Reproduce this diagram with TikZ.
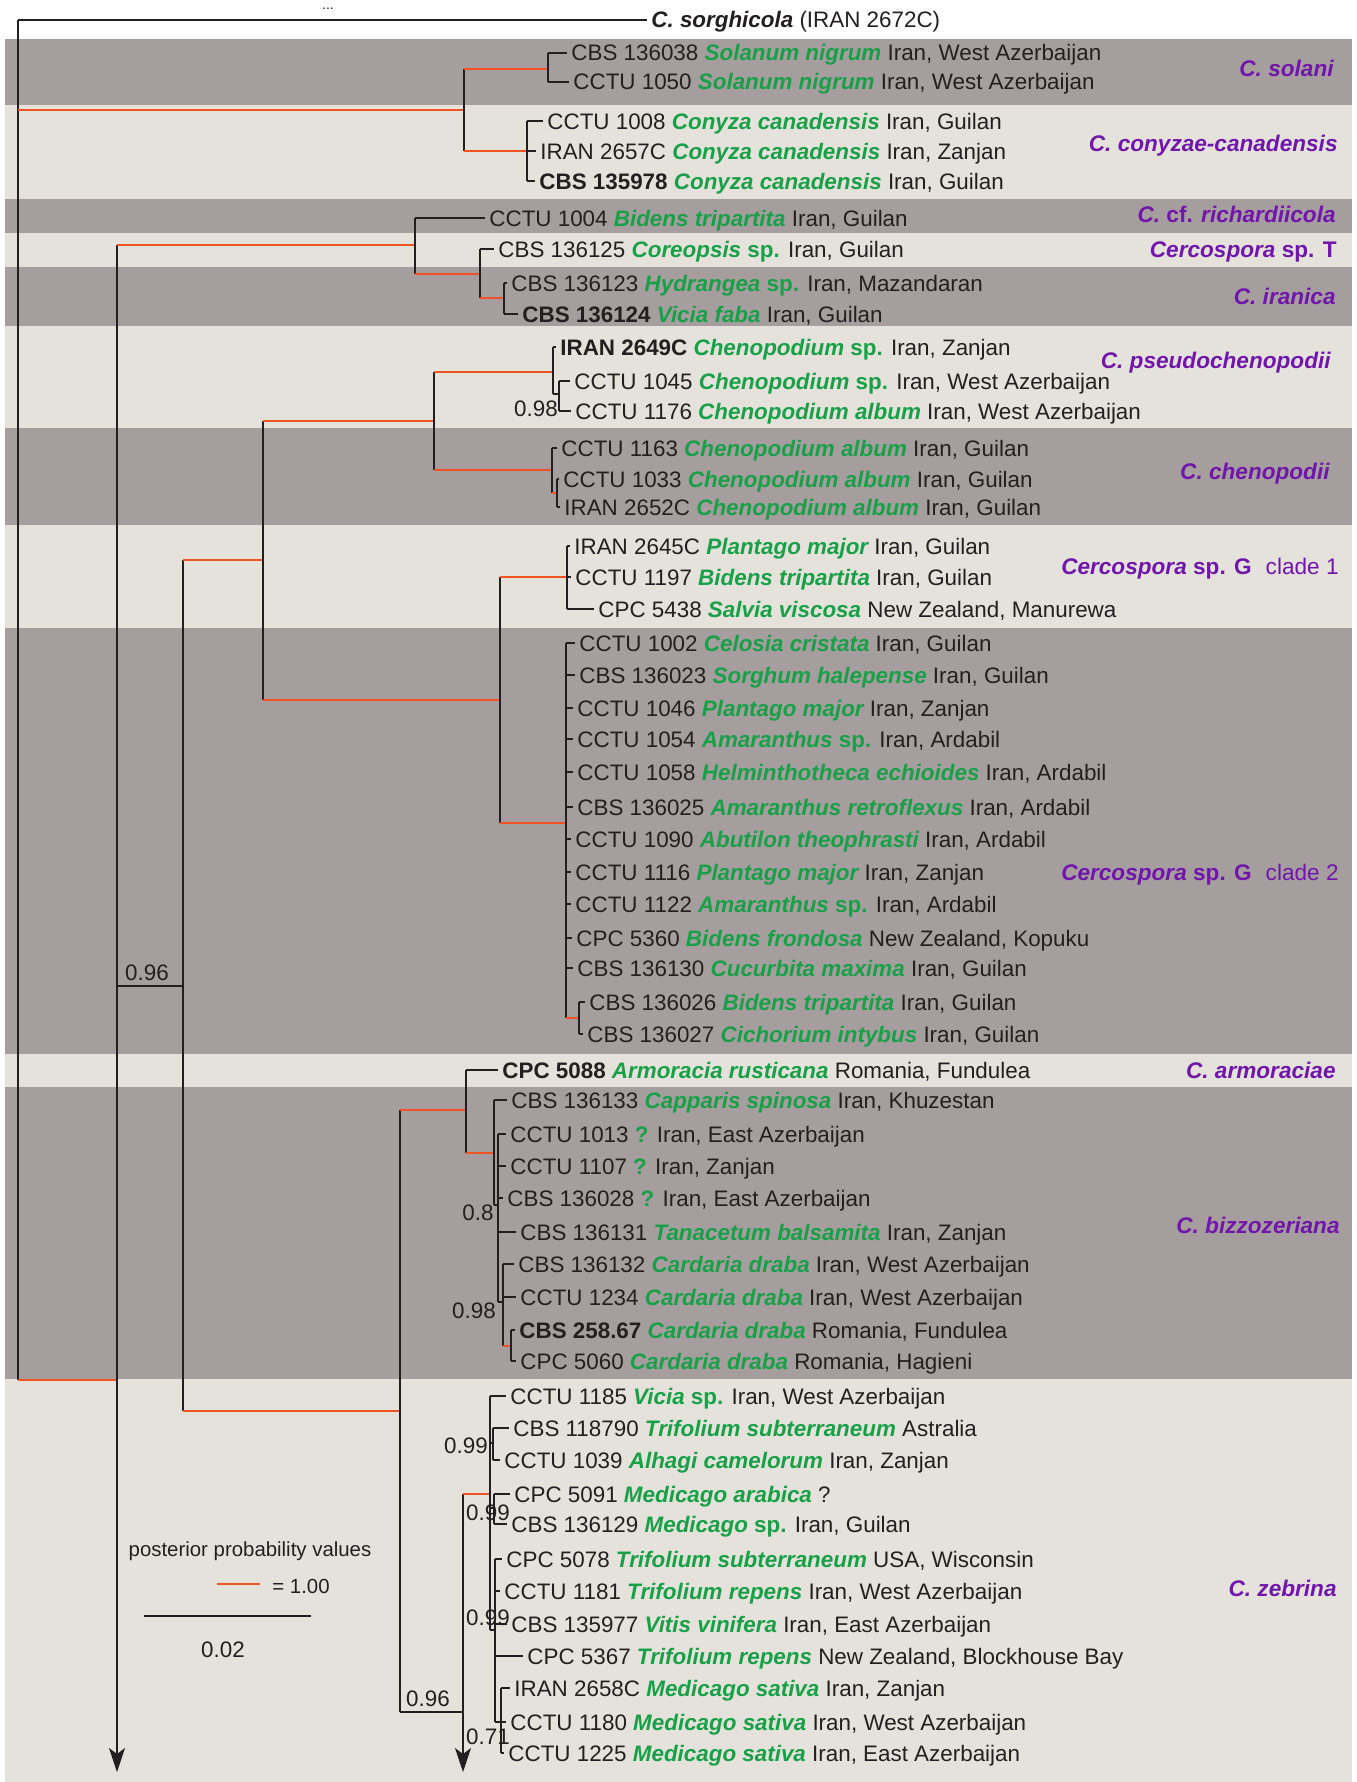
\documentclass[tikz,border=0pt]{standalone}
\usepackage{fontspec}
\setmainfont{Liberation Sans}
\usetikzlibrary{arrows.meta}
\definecolor{bandA}{RGB}{166,157,158}
\definecolor{bandB}{RGB}{229,226,219}
\definecolor{ppc}{RGB}{240,84,35}
\definecolor{host}{RGB}{24,160,72}
\definecolor{clade}{RGB}{112,22,170}
\definecolor{ink}{RGB}{35,31,32}
\newcommand{\hst}[1]{\textcolor{host}{\bfseries\itshape #1}}
\newcommand{\hsp}{\textcolor{host}{\bfseries sp.}}
\newcommand{\hq}{\textcolor{host}{\bfseries ?}}
\newcommand{\spc}[1]{\textcolor{clade}{\bfseries\itshape #1}}
\tikzset{
  br/.style={line width=1pt, ink},
  pp/.style={line width=1.4pt, ppc},
  strain/.style={anchor=west, inner xsep=2pt, inner ysep=0pt, text height=8pt, text depth=0pt, text=ink, font=\fontsize{11.2}{13}\selectfont},
  taxon/.style={anchor=east, inner xsep=2pt, inner ysep=0pt, text height=8pt, text depth=0pt, text=clade, font=\fontsize{11.3}{13}\selectfont},
  pv/.style={inner sep=0pt, text height=8pt, text depth=0pt, text=ink, font=\fontsize{11.2}{13}\selectfont},
  cut/.style={br, -{Stealth[length=12pt, width=8pt, inset=3pt]}}
}
\begin{document}
\begin{tikzpicture}[x=0.5pt, y=-0.5pt]
	\useasboundingbox (0,0) rectangle (1356,1782);

	\fill[bandA] (5,39) rectangle (1352,105);
	\fill[bandB] (5,105) rectangle (1352,199);
	\fill[bandA] (5,199) rectangle (1352,233);
	\fill[bandB] (5,233) rectangle (1352,267);
	\fill[bandA] (5,267) rectangle (1352,326);
	\fill[bandB] (5,326) rectangle (1352,428);
	\fill[bandA] (5,428) rectangle (1352,525);
	\fill[bandB] (5,525) rectangle (1352,628);
	\fill[bandA] (5,628) rectangle (1352,1054);
	\fill[bandB] (5,1054) rectangle (1352,1087);
	\fill[bandA] (5,1087) rectangle (1352,1379);
	\fill[bandB] (5,1379) rectangle (1352,1782);

	\node[text=ink, inner sep=0pt, anchor=base, font=\fontsize{7}{8}\selectfont] (dots) at (328,10) {...};

	% strains
	\node[strain] (out) at (647,20) {\textbf{\textit{C. sorghicola}} (IRAN 2672C)};
	\node[strain] (s1) at (567,53) {CBS 136038 \hst{Solanum nigrum} Iran, West Azerbaijan};
	\node[strain] (s2) at (569,82) {CCTU 1050 \hst{Solanum nigrum} Iran, West Azerbaijan};
	\node[strain] (c1) at (543,121) {CCTU 1008 \hst{Conyza canadensis} Iran, Guilan};
	\node[strain] (c2) at (536,151) {IRAN 2657C \hst{Conyza canadensis} Iran, Zanjan};
	\node[strain] (c3) at (535,181) {\textbf{CBS 135978} \hst{Conyza canadensis} Iran, Guilan};
	\node[strain] (r1) at (485,218) {CCTU 1004 \hst{Bidens tripartita} Iran, Guilan};
	\node[strain] (r2) at (494,249) {CBS 136125 \hst{Coreopsis} \hsp{} Iran, Guilan};
	\node[strain] (r3) at (507,283) {CBS 136123 \hst{Hydrangea} \hsp{} Iran, Mazandaran};
	\node[strain] (r4) at (518,314) {\textbf{CBS 136124} \hst{Vicia faba} Iran, Guilan};
	\node[strain] (p1) at (556,347) {\textbf{IRAN 2649C} \hst{Chenopodium} \hsp{} Iran, Zanjan};
	\node[strain] (p2) at (570,381) {CCTU 1045 \hst{Chenopodium} \hsp{} Iran, West Azerbaijan};
	\node[strain] (p3) at (571,411) {CCTU 1176 \hst{Chenopodium album} Iran, West Azerbaijan};
	\node[strain] (h1) at (557,448) {CCTU 1163 \hst{Chenopodium album} Iran, Guilan};
	\node[strain] (h2) at (559,479) {CCTU 1033 \hst{Chenopodium album} Iran, Guilan};
	\node[strain] (h3) at (560,507) {IRAN 2652C \hst{Chenopodium album} Iran, Guilan};
	\node[strain] (g1) at (570,546) {IRAN 2645C \hst{Plantago major} Iran, Guilan};
	\node[strain] (g2) at (571,577) {CCTU 1197 \hst{Bidens tripartita} Iran, Guilan};
	\node[strain] (g3) at (594,609) {CPC 5438 \hst{Salvia viscosa} New Zealand, Manurewa};
	\node[strain] (k1) at (575,643) {CCTU 1002 \hst{Celosia cristata} Iran, Guilan};
	\node[strain] (k2) at (575,675) {CBS 136023 \hst{Sorghum halepense} Iran, Guilan};
	\node[strain] (k3) at (573,708) {CCTU 1046 \hst{Plantago major} Iran, Zanjan};
	\node[strain] (k4) at (573,739) {CCTU 1054 \hst{Amaranthus} \hsp{} Iran, Ardabil};
	\node[strain] (k5) at (573,772) {CCTU 1058 \hst{Helminthotheca echioides} Iran, Ardabil};
	\node[strain] (k6) at (573,807) {CBS 136025 \hst{Amaranthus retroflexus} Iran, Ardabil};
	\node[strain] (k7) at (571,839) {CCTU 1090 \hst{Abutilon theophrasti} Iran, Ardabil};
	\node[strain] (k8) at (571,872) {CCTU 1116 \hst{Plantago major} Iran, Zanjan};
	\node[strain] (k9) at (571,904) {CCTU 1122 \hst{Amaranthus} \hsp{} Iran, Ardabil};
	\node[strain] (k10) at (572,938) {CPC 5360 \hst{Bidens frondosa} New Zealand, Kopuku};
	\node[strain] (k11) at (573,968) {CBS 136130 \hst{Cucurbita maxima} Iran, Guilan};
	\node[strain] (k12) at (585,1002) {CBS 136026 \hst{Bidens tripartita} Iran, Guilan};
	\node[strain] (k13) at (583,1034) {CBS 136027 \hst{Cichorium intybus} Iran, Guilan};
	\node[strain] (a1) at (498,1070) {\textbf{CPC 5088} \hst{Armoracia rusticana} Romania, Fundulea};
	\node[strain] (b1) at (507,1100) {CBS 136133 \hst{Capparis spinosa} Iran, Khuzestan};
	\node[strain] (b2) at (506,1134) {CCTU 1013 \hq{} Iran, East Azerbaijan};
	\node[strain] (b3) at (506,1166) {CCTU 1107 \hq{} Iran, Zanjan};
	\node[strain] (b4) at (503,1198) {CBS 136028 \hq{} Iran, East Azerbaijan};
	\node[strain] (b5) at (516,1232) {CBS 136131 \hst{Tanacetum balsamita} Iran, Zanjan};
	\node[strain] (b6) at (514,1264) {CBS 136132 \hst{Cardaria draba} Iran, West Azerbaijan};
	\node[strain] (b7) at (516,1297) {CCTU 1234 \hst{Cardaria draba} Iran, West Azerbaijan};
	\node[strain] (b8) at (515,1330) {\textbf{CBS 258.67} \hst{Cardaria draba} Romania, Fundulea};
	\node[strain] (b9) at (516,1361) {CPC 5060 \hst{Cardaria draba} Romania, Hagieni};
	\node[strain] (z1) at (506,1396) {CCTU 1185 \hst{Vicia} \hsp{} Iran, West Azerbaijan};
	\node[strain] (z2) at (509,1428) {CBS 118790 \hst{Trifolium subterraneum} Astralia};
	\node[strain] (z3) at (500,1460) {CCTU 1039 \hst{Alhagi camelorum} Iran, Zanjan};
	\node[strain] (z4) at (510,1494) {CPC 5091 \hst{Medicago arabica} ?};
	\node[strain] (z5) at (507,1524) {CBS 136129 \hst{Medicago} \hsp{} Iran, Guilan};
	\node[strain] (z6) at (502,1559) {CPC 5078 \hst{Trifolium subterraneum} USA, Wisconsin};
	\node[strain] (z7) at (500,1591) {CCTU 1181 \hst{Trifolium repens} Iran, West Azerbaijan};
	\node[strain] (z8) at (507,1624) {CBS 135977 \hst{Vitis vinifera} Iran, East Azerbaijan};
	\node[strain] (z9) at (523,1656) {CPC 5367 \hst{Trifolium repens} New Zealand, Blockhouse Bay};
	\node[strain] (z10) at (510,1688) {IRAN 2658C \hst{Medicago sativa} Iran, Zanjan};
	\node[strain] (z11) at (506,1722) {CCTU 1180 \hst{Medicago sativa} Iran, West Azerbaijan};
	\node[strain] (z12) at (504,1753) {CCTU 1225 \hst{Medicago sativa} Iran, East Azerbaijan};

	% species
	\node[taxon] (sol) at (1338,68) {\spc{C. solani}};
	\node[taxon] (con) at (1342,143) {\spc{C. conyzae-canadensis}};
	\node[taxon] (ric) at (1340,214) {\spc{C.} \textbf{cf.} \spc{richardiicola}};
	\node[taxon] (spT) at (1341,249) {\spc{Cercospora} \textbf{sp. T}};
	\node[taxon] (ira) at (1340,296) {\spc{C. iranica}};
	\node[taxon] (pse) at (1335,360) {\spc{C. pseudochenopodii}};
	\node[taxon] (che) at (1334,471) {\spc{C. chenopodii}};
	\node[taxon] (spG1) at (1343,566) {\spc{Cercospora} \textbf{sp. G}\hspace{7pt}clade 1};
	\node[taxon] (spG2) at (1343,872) {\spc{Cercospora} \textbf{sp. G}\hspace{7pt}clade 2};
	\node[taxon] (arm) at (1340,1070) {\spc{C. armoraciae}};
	\node[taxon] (biz) at (1344,1225) {\spc{C. bizzozeriana}};
	\node[taxon] (zeb) at (1341,1588) {\spc{C. zebrina}};

	% internal nodes
	\coordinate (root) at (18,20);
	\coordinate (nA) at (464,110);
	\coordinate (nSol) at (548,69);
	\coordinate (nCon) at (527,151);
	\coordinate (nX) at (117,1380);
	\coordinate (endL) at (117,1772);
	\coordinate (nB) at (415,245);
	\coordinate (nTI) at (480,274);
	\coordinate (nIr) at (504,298);
	\coordinate (nC) at (183,986);
	\coordinate (nD) at (263,560);
	\coordinate (nE) at (434,421);
	\coordinate (nPs) at (553,372);
	\coordinate (nPs2) at (559,394);
	\coordinate (nCh) at (552,470);
	\coordinate (nCh2) at (557,493);
	\coordinate (nF) at (500,700);
	\coordinate (nG1) at (567,577);
	\coordinate (nG2) at (566,823);
	\coordinate (nG2b) at (579,1018);
	\coordinate (nG) at (400,1411);
	\coordinate (nH) at (466,1110);
	\coordinate (nI) at (494,1153);
	\coordinate (nJ) at (498,1205);
	\coordinate (nK) at (503,1302);
	\coordinate (nL) at (511,1346);
	\coordinate (nM) at (463,1712);
	\coordinate (endR) at (463,1772);
	\coordinate (nN) at (490,1494);
	\coordinate (nS1) at (493,1443);
	\coordinate (nS2) at (494,1508);
	\coordinate (nP) at (494.5,1630);
	\coordinate (nQ) at (501,1722);

	% branches
	\draw[br] (root) -- (out.west);
	\draw[br] (root) -- (root |- nX);
	\draw[pp] (root |- nA) -- (nA);
	\draw[pp] (root |- nX) -- (nX);

	\draw[br] (nA |- nSol) -- (nA |- nCon);
	\draw[pp] (nA |- nSol) -- (nSol);
	\draw[pp] (nA |- nCon) -- (nCon);
	\draw[br] (nSol |- s1.west) -- (nSol |- s2.west);
	\draw[br] (nCon |- c1.west) -- (nCon |- c3.west);
	\foreach \t in {s1,s2} \draw[br] (nSol |- \t.west) -- (\t.west);
	\foreach \t in {c1,c2,c3} \draw[br] (nCon |- \t.west) -- (\t.west);

	\draw[cut] (nX |- nB) -- (endL);
	\draw[pp] (nX |- nB) -- (nB);
	\draw[br] (nX |- nC) -- (nC);
	\draw[br] (nB |- r1.west) -- (nB |- nTI);
	\draw[br] (nB |- r1.west) -- (r1.west);
	\draw[pp] (nB |- nTI) -- (nTI);
	\draw[br] (nTI |- r2.west) -- (nTI |- nIr);
	\draw[br] (nTI |- r2.west) -- (r2.west);
	\draw[pp] (nTI |- nIr) -- (nIr);
	\draw[br] (nIr |- r3.west) -- (nIr |- r4.west);
	\foreach \t in {r3,r4} \draw[br] (nIr |- \t.west) -- (\t.west);

	\draw[br] (nC |- nD) -- (nC |- nG);
	\draw[pp] (nC |- nD) -- (nD);
	\draw[pp] (nC |- nG) -- (nG);
	\draw[br] (nD |- nE) -- (nD |- nF);
	\draw[pp] (nD |- nE) -- (nE);
	\draw[pp] (nD |- nF) -- (nF);
	\draw[br] (nE |- nPs) -- (nE |- nCh);
	\draw[pp] (nE |- nPs) -- (nPs);
	\draw[pp] (nE |- nCh) -- (nCh);
	\draw[br] (nPs |- p1.west) -- (nPs |- nPs2);
	\draw[br] (nPs |- p1.west) -- (p1.west);
	\draw[br] (nPs |- nPs2) -- (nPs2);
	\draw[br] (nPs2 |- p2.west) -- (nPs2 |- p3.west);
	\foreach \t in {p2,p3} \draw[br] (nPs2 |- \t.west) -- (\t.west);
	\draw[br] (nCh |- h1.west) -- (nCh |- nCh2);
	\draw[br] (nCh |- h1.west) -- (h1.west);
	\draw[pp] (nCh |- nCh2) -- (nCh2);
	\draw[br] (nCh2 |- h2.west) -- (nCh2 |- h3.west);
	\foreach \t in {h2,h3} \draw[br] (nCh2 |- \t.west) -- (\t.west);

	\draw[br] (nF |- nG1) -- (nF |- nG2);
	\draw[pp] (nF |- nG1) -- (nG1);
	\draw[pp] (nF |- nG2) -- (nG2);
	\draw[br] (nG1 |- g1.west) -- (nG1 |- g3.west);
	\foreach \t in {g1,g2,g3} \draw[br] (nG1 |- \t.west) -- (\t.west);
	\draw[br] (nG2 |- k1.west) -- (nG2 |- nG2b);
	\foreach \i in {1,...,11} \draw[br] (nG2 |- k\i.west) -- (k\i.west);
	\draw[pp] (nG2 |- nG2b) -- (nG2b);
	\draw[br] (nG2b |- k12.west) -- (nG2b |- k13.west);
	\foreach \t in {k12,k13} \draw[br] (nG2b |- \t.west) -- (\t.west);

	\draw[br] (nG |- nH) -- (nG |- nM);
	\draw[pp] (nG |- nH) -- (nH);
	\draw[br] (nG |- nM) -- (nM);
	\draw[br] (nH |- a1.west) -- (nH |- nI);
	\draw[br] (nH |- a1.west) -- (a1.west);
	\draw[pp] (nH |- nI) -- (nI);
	\draw[br] (nI |- b1.west) -- (nI |- nJ);
	\draw[br] (nI |- b1.west) -- (b1.west);
	\draw[br] (nI |- nJ) -- (nJ);
	\draw[br] (nJ |- b2.west) -- (nJ |- nK);
	\foreach \t in {b2,b3,b4,b5} \draw[br] (nJ |- \t.west) -- (\t.west);
	\draw[br] (nJ |- nK) -- (nK);
	\draw[br] (nK |- b6.west) -- (nK |- nL);
	\foreach \t in {b6,b7} \draw[br] (nK |- \t.west) -- (\t.west);
	\draw[pp] (nK |- nL) -- (nL);
	\draw[br] (nL |- b8.west) -- (nL |- b9.west);
	\foreach \t in {b8,b9} \draw[br] (nL |- \t.west) -- (\t.west);

	\draw[cut] (nM |- nN) -- (endR);
	\draw[pp] (nM |- nN) -- (nN);
	\draw[br] (nN |- z1.west) -- (nN |- nP);
	\draw[br] (nN |- z1.west) -- (z1.west);
	\draw[br] (nN |- nS1) -- (nS1);
	\draw[br] (nN |- nS2) -- (nS2);
	\draw[br] (nN |- nP) -- (nP);
	\draw[br] (nS1 |- z2.west) -- (nS1 |- z3.west);
	\foreach \t in {z2,z3} \draw[br] (nS1 |- \t.west) -- (\t.west);
	\draw[br] (nS2 |- z4.west) -- (nS2 |- z5.west);
	\foreach \t in {z4,z5} \draw[br] (nS2 |- \t.west) -- (\t.west);
	\draw[br] (nP |- z6.west) -- (nP |- nQ);
	\foreach \t in {z6,z7,z8,z9} \draw[br] (nP |- \t.west) -- (\t.west);
	\draw[br] (nP |- nQ) -- (nQ);
	\draw[br] (nQ |- z10.west) -- (nQ |- z12.west);
	\foreach \t in {z10,z11,z12} \draw[br] (nQ |- \t.west) -- (\t.west);

	% support values
	\node[pv] (v1) at (147,972) {0.96};
	\node[pv] (v2) at (536,408) {0.98};
	\node[pv] (v3) at (478,1212) {0.8};
	\node[pv] (v4) at (474,1310) {0.98};
	\node[pv] (v5) at (428,1698) {0.96};
	\node[pv] (v6) at (466,1445) {0.99};
	\node[pv] (v7) at (488,1512) {0.99};
	\node[pv] (v8) at (488,1617) {0.99};
	\node[pv] (v9) at (488,1736) {0.71};

	% legend
	\node[pv, font=\fontsize{10.2}{12}\selectfont] (lgd) at (250,1548) {posterior probability values};
	\node[pv, anchor=west, font=\fontsize{10.2}{12}\selectfont] (lgv) at (272,1585) {= 1.00};
	\coordinate (lg1) at (217,1584);
	\coordinate (lg2) at (260,1584);
	\draw[pp] (lg1) -- (lg2);
	\coordinate (sb1) at (144,1616);
	\coordinate (sb2) at (311,1616);
	\draw[br] (sb1) -- (sb2);
	\node[pv] (sbl) at (223,1649) {0.02};
\end{tikzpicture}
\end{document}
